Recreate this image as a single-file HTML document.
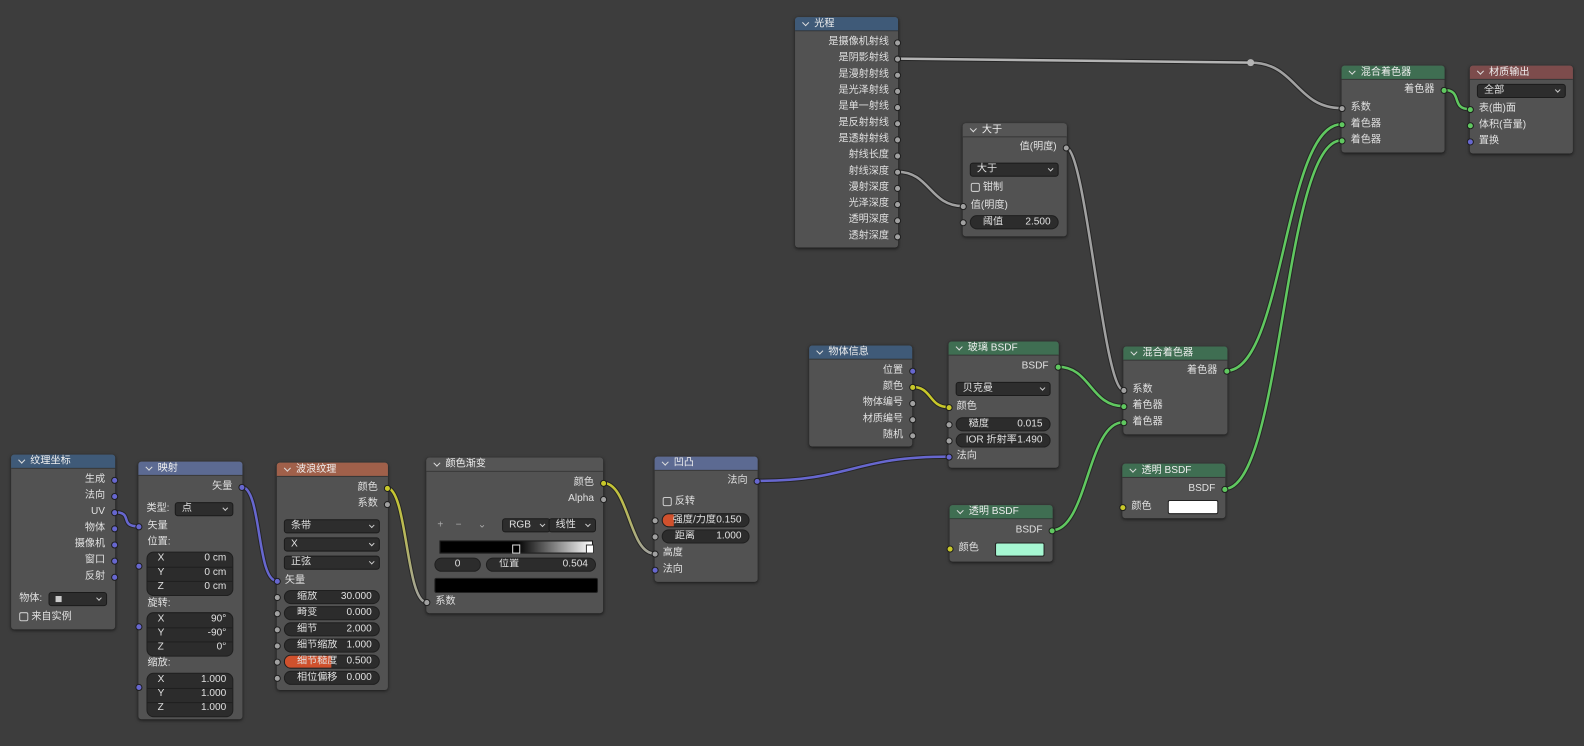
<!DOCTYPE html>
<html><head><meta charset="utf-8"><style>
body{margin:0;width:1584px;height:738px;background:#3d3d3d;overflow:hidden;position:relative;font-family:"Liberation Sans","Noto Sans CJK SC",sans-serif;font-size:10px;color:#e0e0e0}
#sc{position:absolute;left:0;top:0;width:1584px;height:738px;transform:scale(1.0102);transform-origin:0 0}
.n{position:absolute;background:#525252;border-radius:3px;box-shadow:0 1px 3px rgba(0,0,0,.6)}
.h{position:absolute;left:0;right:0;top:0;height:14px;border-radius:3px 3px 0 0;line-height:14px;padding-left:19px;color:#eee;box-sizing:border-box;border-bottom:1px solid #2f2f2f}
.h:before{content:"";position:absolute;left:8px;top:3px;width:4px;height:4px;border-right:1px solid #ddd;border-bottom:1px solid #ddd;transform:rotate(45deg)}
.t{position:absolute;white-space:nowrap;line-height:12px}
.s{position:absolute;width:7px;height:7px;border-radius:50%;border:1px solid #1e1e1e;box-sizing:border-box}
.f{position:absolute;height:14px;background:#2c2c2c;border:1px solid #1f1f1f;border-radius:7px;box-sizing:border-box;line-height:12px;overflow:hidden}
.d{position:absolute;height:14px;background:#2d2d2d;border:1px solid #1b1b1b;border-radius:3px;box-sizing:border-box;line-height:12px;padding-left:6px}
.d:after{content:"";position:absolute;right:5px;top:3px;width:3px;height:3px;border-right:1px solid #ccc;border-bottom:1px solid #ccc;transform:rotate(45deg)}
.b{position:absolute;background:#2c2c2c;border:1px solid #1f1f1f;border-radius:7px;box-sizing:border-box}
.cb{position:absolute;width:9px;height:9px;border:1px solid #ccc;border-radius:2px;box-sizing:border-box}
svg{position:absolute;left:0;top:0}
</style></head><body>
<div id="sc">
<svg width="1584" height="738" id="w"></svg>
<div id="root"></div>
</div>
<script>
var R=document.getElementById('root'),W=document.getElementById('w');
var C={g:'#a1a1a1',b:'#6767cf',y:'#c8c82a',G:'#60c860'};
function el(cls,st,html){var d=document.createElement('div');d.className=cls;d.style.cssText=st;if(html!=null)d.innerHTML=html;R.appendChild(d);return d;}
function N(x,y,w,h,t,hc){el('n','left:'+x+'px;top:'+y+'px;width:'+w+'px;height:'+h+'px');el('h','left:'+x+'px;top:'+y+'px;width:'+w+'px;background:'+hc,t);}
function T(x,y,s,r,col){el('t',(r?'right:'+(1584-x)+'px;':'left:'+x+'px;')+'top:'+(y-6)+'px;'+(col?'color:'+col:''),s);}
function S(x,y,c){el('s','left:'+(x-3.5)+'px;top:'+(y-3.5)+'px;background:'+C[c]);}
function F(x1,x2,y,l,v,red,lp){var d=el('f','left:'+x1+'px;top:'+(y-7)+'px;width:'+(x2-x1)+'px');
 if(red)d.innerHTML+='<div style="position:absolute;left:0;top:0;bottom:0;width:'+red+'px;background:#d0512d"></div>';
 d.innerHTML+='<span style="position:absolute;left:'+(lp==null?12:lp)+'px;">'+l+'</span><span style="position:absolute;right:7px">'+v+'</span>';}
function D(x1,x2,y,s){el('d','left:'+x1+'px;top:'+(y-7)+'px;width:'+(x2-x1)+'px',s);}
function CB(x,y,s){el('cb','left:'+x+'px;top:'+(y-5)+'px');T(x+12,y,s);}
function XYZ(x1,x2,y,vals){el('b','left:'+x1+'px;top:'+y+'px;width:'+(x2-x1)+'px;height:44px');
 for(var i=0;i<3;i++){var yy=y+7+i*14;T(x1+11,yy,'XYZ'[i]);T(x2-7,yy,vals[i],1);
 if(i)el('t','left:'+(x1+1)+'px;top:'+(y+i*14+1)+'px;width:'+(x2-x1-2)+'px;height:1px;background:#1f1f1f');}}
function wire(x1,y1,x2,y2,c1,c2,k){var dx=Math.max(Math.abs(x2-x1)*(k||0.5),20);
 var d='M'+x1+','+y1+' C'+(x1+dx)+','+y1+' '+(x2-dx)+','+y2+' '+x2+','+y2;var id='g'+Math.random().toString(36).slice(2);
 var s='<path d="'+d+'" stroke="#262626" stroke-width="4.5" fill="none"/>';
 if(c2&&c2!=c1){s+='<defs><linearGradient id="'+id+'" gradientUnits="userSpaceOnUse" x1="'+x1+'" y1="'+y1+'" x2="'+x2+'" y2="'+y2+'"><stop offset="0" stop-color="'+C[c1]+'"/><stop offset="1" stop-color="'+C[c2]+'"/></linearGradient></defs><path d="'+d+'" stroke="url(#'+id+')" stroke-width="2.5" fill="none"/>';}
 else s+='<path d="'+d+'" stroke="'+C[c1]+'" stroke-width="2.5" fill="none"/>';
 W.innerHTML+=s;}
wire(113,507,137,521,'b');
wire(239,482,274,575,'b','b',0.3);
wire(383,483,422,596,'y','g',0.3);
wire(597,478,648,548,'y','g',0.5);
wire(749,476,939,452,'b');
wire(903,383,939,403,'y');
wire(1047,363,1112,402,'G');
wire(1041,525,1112,418,'G',0,0.5);
wire(888,170,953,204,'g');
wire(1055,146,1112,386,'g',0,0.3);
W.innerHTML+='<path d="M888,58 L1238,62" stroke="#262626" stroke-width="4.5" fill="none"/><path d="M888,58 L1238,62" stroke="#b4b4b4" stroke-width="2.5" fill="none"/>';
wire(1238,62,1328,107,'g');
W.innerHTML+='<circle cx="1238" cy="62" r="3.5" fill="#b4b4b4"/>';
wire(1214,367,1328,123,'G',0,0.5);
wire(1212,484,1328,139,'G',0,0.5);
wire(1429,89,1455,108,'G');

N(11,450,103,173,'纹理坐标','#3f5a78');
['生成','法向','UV','物体','摄像机','窗口','反射'].forEach(function(s,i){T(104,475+i*16,s,1);S(113,475+i*16,'b');});
T(19,593,'物体:');el('d','left:48px;top:586px;width:58px;height:14px;background:#2d2d2d;padding-left:0','<span style="display:inline-block;width:6px;height:6px;background:#ccc;margin:3px 0 0 6px"></span>');
CB(19,611,'来自实例');
N(137,457,103,255,'映射','#5c6a92');
T(230,482,'矢量',1);S(239,482,'b');
T(145,504,'类型:');D(173,231,504,'点');
S(137,521,'b');T(146,521,'矢量');
T(146,537,'位置:');XYZ(145,231,546,['0 cm','0 cm','0 cm']);S(137,560,'b');
T(146,598,'旋转:');XYZ(145,231,606,['90°','-90°','0°']);S(137,620,'b');
T(146,657,'缩放:');XYZ(145,231,666,['1.000','1.000','1.000']);S(137,680,'b');
N(274,458,110,225,'波浪纹理','#a0604a');
T(374,483,'颜色',1);S(383,483,'y');T(374,499,'系数',1);S(383,499,'g');
D(281,376,521,'条带');D(281,376,539,'X');D(281,376,557,'正弦');
S(274,575,'b');T(282,575,'矢量');
[['缩放','30.000'],['畸变','0.000'],['细节','2.000'],['细节缩放','1.000'],['细节糙度','0.500'],['相位偏移','0.000']].forEach(function(a,i){F(281,376,591+i*16,a[0],a[1],i==4?46:0);S(274,591+i*16,'g');});
N(422,453,175,154,'颜色渐变','#555555');
T(588,478,'颜色',1);S(597,478,'y');T(588,494,'Alpha',1);S(597,494,'g');
T(433,520,'+',0,'#aaa');T(451,520,'−',0,'#aaa');T(473,520,'⌄',0,'#aaa');
D(497,545,520,'RGB');D(543,590,520,'线性');
el('t','left:435px;top:535px;width:150px;height:11px;border:1px solid #1a1a1a;background:linear-gradient(90deg,#000 0%,#000 50.4%,#fff 100%)');
el('t','left:507px;top:539px;width:6px;height:7px;background:#000;border:1px solid #ddd');el('t','left:580px;top:539px;width:6px;height:7px;background:#fff;border:1px solid #333');
el('f','left:430px;top:552px;width:46px;text-align:center','0');
F(481,590,559,'位置','0.504');
el('t','left:430px;top:572px;width:160px;height:13px;background:#000;border:1px solid #222;border-radius:2px');
S(422,596,'g');T(431,596,'系数');
N(648,452,102,124,'凹凸','#5c6a92');
T(740,476,'法向',1);S(749,476,'b');
CB(656,497,'反转');
F(655,742,515,'强度/力度','0.150',11,10);S(648,515,'g');
F(655,742,531,'距离','1.000');S(648,531,'g');
S(648,548,'g');T(656,548,'高度');S(648,564,'b');T(656,564,'法向');
N(787,17,102,228,'光程','#3f5a78');
['是摄像机射线','是阴影射线','是漫射射线','是光泽射线','是单一射线','是反射射线','是透射射线','射线长度','射线深度','漫射深度','光泽深度','透明深度','透射深度'].forEach(function(s,i){T(880,42+i*16,s,1);S(888,42+i*16,'g');});
N(953,122,103,112,'大于','#555555');
T(1046,146,'值(明度)',1);S(1055,146,'g');
D(960,1048,168,'大于');CB(961,186,'钳制');
S(953,204,'g');T(961,204,'值(明度)');
F(960,1048,220,'阈值','2.500');S(953,220,'g');
N(1328,65,102,86,'混合着色器','#3f6e52');
T(1420,89,'着色器',1);S(1429,89,'G');
S(1328,107,'g');T(1337,107,'系数');S(1328,123,'G');T(1337,123,'着色器');S(1328,139,'G');T(1337,139,'着色器');
N(1455,65,102,87,'材质输出','#7d4c4c');
D(1462,1550,90,'全部');
S(1455,108,'G');T(1464,108,'表(曲)面');S(1455,124,'G');T(1464,124,'体积(音量)');S(1455,140,'b');T(1464,140,'置换');
N(801,342,102,100,'物体信息','#3f5a78');
[['位置','b'],['颜色','y'],['物体编号','g'],['材质编号','g'],['随机','g']].forEach(function(a,i){T(894,367+i*16,a[0],1);S(903,367+i*16,a[1]);});
N(939,338,109,125,'玻璃 BSDF','#3f6e52');
T(1038,363,'BSDF',1);S(1047,363,'G');
D(946,1040,385,'贝克曼');
S(939,403,'y');T(947,403,'颜色');
F(946,1040,420,'糙度','0.015');S(939,420,'g');
F(946,1040,436,'IOR 折射率','1.490',0,9);S(939,436,'g');
S(939,452,'b');T(947,452,'法向');
N(1112,343,103,87,'混合着色器','#3f6e52');
T(1205,367,'着色器',1);S(1214,367,'G');
S(1112,386,'g');T(1121,386,'系数');S(1112,402,'G');T(1121,402,'着色器');S(1112,418,'G');T(1121,418,'着色器');
N(940,500,102,56,'透明 BSDF','#3f6e52');
T(1032,525,'BSDF',1);S(1041,525,'G');
S(940,543,'y');T(949,543,'颜色');el('t','left:985px;top:537px;width:49px;height:14px;background:#a6f7d2;border:1px solid #222;border-radius:2px;box-sizing:border-box');
N(1111,459,102,54,'透明 BSDF','#3f6e52');
T(1203,484,'BSDF',1);S(1212,484,'G');
S(1111,502,'y');T(1120,502,'颜色');el('t','left:1156px;top:495px;width:50px;height:14px;background:#fff;border:1px solid #222;border-radius:2px;box-sizing:border-box');
</script>
</body></html>
